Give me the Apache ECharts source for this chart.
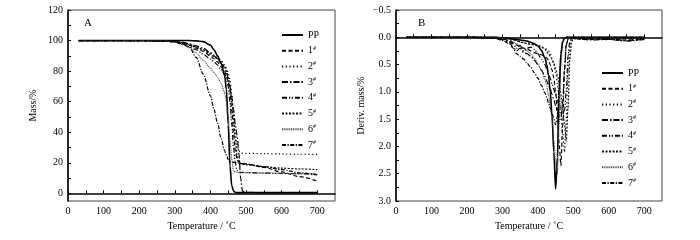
<!DOCTYPE html>
<html>
<head>
<meta charset="utf-8">
<script src="https://cdn.jsdelivr.net/npm/echarts@6/dist/echarts.min.js"></script>
<style>
  html, body { margin: 0; padding: 0; background: #fff; }
  #chart { width: 700px; height: 240px; }
</style>
</head>
<body>
<div id="chart"></div>
<script>
// series names
const names = ["PP", "1#", "2#", "3#", "4#", "5#", "6#", "7#"];

// panel A: TGA, mass / %
const tgaTemp = [30, 100, 200, 280, 300, 320, 340, 360, 380, 400, 410, 420, 430, 440, 445, 450, 455, 460, 465, 470, 475, 480, 485, 490, 500, 550, 600, 650, 700];
const tgaPP = [100, 100, 100, 100, 100, 100, 100, 99.8, 99.3, 97, 94, 90, 85, 77, 68, 45, 18, 5, 1.5, 0.6, 0.5, 0.5, 0.5, 0.5, 0.5, 0.5, 0.5, 0.5, 0.5];
const tga1 = [100, 100, 100, 99.7, 99.3, 98.5, 97, 95, 93, 90, 88, 86, 83, 80, 77, 73, 67, 55, 40, 28, 22, 20.5, 20, 19.7, 19.3, 17, 14, 11, 8];
const tga2 = [100, 100, 100, 99.7, 99.2, 98.3, 97, 95.5, 94, 92, 90.5, 89, 87, 84, 82, 79, 74, 65, 52, 40, 32, 28, 26.5, 26.3, 26.2, 26, 25.8, 25.6, 25.5];
const tga3 = [100, 100, 100, 99.8, 99.5, 99, 98, 96.5, 95, 92, 90, 88, 85, 82, 79, 75, 70, 63, 55, 45, 38, 26, 10, 1.5, 0.6, 0.5, 0.5, 0.5, 0.5];
const tga4 = [100, 100, 100, 99.7, 99.2, 98, 96, 94, 91, 88, 86, 84, 81, 78, 75, 70, 60, 45, 30, 20, 15, 14, 13.8, 13.7, 13.6, 13.3, 13, 12.8, 12.5];
const tga5 = [100, 100, 100, 99.8, 99.4, 98.6, 97.5, 96, 94, 91, 89.5, 88, 86, 83, 80, 76, 70, 60, 48, 35, 25, 20, 19.2, 19, 18.7, 17.5, 16.5, 16, 15.5];
const tga6 = [100, 100, 100, 99.6, 99, 97.5, 95.5, 92, 87, 82, 79, 76, 72, 66, 60, 50, 35, 22, 15, 14, 13.8, 13.7, 13.6, 13.6, 13.5, 13.3, 13.1, 12.9, 12.7];
const tga7 = [100, 100, 99.8, 99.4, 99, 98, 96, 89, 78, 64, 55, 46, 36, 28, 25, 22, 20.8, 20.5, 20.3, 20.1, 20, 19.8, 19.6, 19.4, 19.1, 17.5, 15.5, 13.5, 12];

// panel B: DTG, deriv. mass / %
const dtgTemp = [30, 100, 200, 280, 300, 320, 330, 340, 350, 360, 370, 380, 390, 400, 410, 420, 425, 430, 435, 440, 445, 450, 455, 460, 465, 470, 475, 480, 485, 490, 495, 500, 510, 550, 600, 650, 700];
const dtgPP = [0, 0, 0, 0, 0.01, 0.02, 0.03, 0.04, 0.05, 0.06, 0.07, 0.09, 0.12, 0.16, 0.24, 0.38, 0.5, 0.7, 1.0, 1.45, 2.1, 2.78, 2.2, 1.0, 0.3, 0.08, 0.02, 0, 0, 0, 0, 0, 0, 0, 0, 0, 0];
const dtg1 = [0, 0, 0, 0.01, 0.03, 0.06, 0.1, 0.14, 0.18, 0.2, 0.22, 0.25, 0.28, 0.3, 0.32, 0.35, 0.38, 0.42, 0.5, 0.6, 0.75, 1.0, 1.4, 1.95, 2.35, 1.6, 0.6, 0.15, 0.04, 0.02, 0.02, 0.02, 0.03, 0.04, 0.03, 0.05, 0.04];
const dtg2 = [0, 0, 0, 0, 0.01, 0.03, 0.05, 0.07, 0.09, 0.1, 0.11, 0.12, 0.13, 0.15, 0.17, 0.2, 0.22, 0.25, 0.3, 0.38, 0.5, 0.65, 0.85, 1.1, 1.4, 1.75, 2.1, 1.5, 0.6, 0.15, 0.03, 0.01, 0.02, 0.03, 0.04, 0.03, 0.02];
const dtg3 = [0, 0, 0, 0.01, 0.04, 0.1, 0.18, 0.25, 0.2, 0.28, 0.3, 0.35, 0.42, 0.5, 0.6, 0.72, 0.8, 0.88, 0.95, 1.05, 1.15, 1.25, 1.35, 1.45, 1.5, 1.2, 0.6, 0.15, 0.03, 0.02, 0.02, 0.02, 0.03, 0.05, 0.04, 0.06, 0.03];
const dtg4 = [0, 0, 0, 0.01, 0.03, 0.08, 0.12, 0.2, 0.15, 0.25, 0.2, 0.18, 0.22, 0.3, 0.4, 0.5, 0.58, 0.66, 0.75, 0.85, 0.95, 1.05, 1.15, 1.25, 1.3, 1.32, 1.35, 1.0, 0.35, 0.08, 0.02, 0.01, 0.02, 0.03, 0.04, 0.07, 0.04];
const dtg5 = [0, 0, 0, 0, 0.01, 0.02, 0.04, 0.06, 0.08, 0.1, 0.12, 0.13, 0.14, 0.15, 0.18, 0.22, 0.26, 0.3, 0.35, 0.4, 0.48, 0.58, 0.7, 0.85, 1.05, 1.3, 1.6, 1.9, 1.3, 0.4, 0.08, 0.02, 0.02, 0.02, 0.03, 0.02, 0.02];
const dtg6 = [0, 0, 0, 0, 0.02, 0.04, 0.08, 0.12, 0.16, 0.2, 0.25, 0.3, 0.38, 0.48, 0.6, 0.78, 0.9, 1.05, 1.25, 1.5, 1.9, 2.3, 2.5, 1.6, 0.5, 0.1, 0.02, 0, 0, 0, 0, 0, 0, 0, 0, 0, 0];
const dtg7 = [0, 0, 0, 0.02, 0.06, 0.12, 0.2, 0.3, 0.35, 0.4, 0.48, 0.55, 0.65, 0.75, 0.88, 1.02, 1.1, 1.2, 1.3, 1.4, 1.5, 1.6, 1.45, 0.9, 0.3, 0.08, 0.02, 0, 0, 0, 0, 0, 0, 0, 0, 0, 0];

// tick labels
const tempTicks = [0, 100, 200, 300, 400, 500, 600, 700];
const massTicks = [0, 20, 40, 60, 80, 100, 120];
const derivTicks = [-0.5, 0, 0.5, 1.0, 1.5, 2.0, 2.5, 3.0];

const tgaSets = [tgaPP, tga1, tga2, tga3, tga4, tga5, tga6, tga7];
const dtgSets = [dtgPP, dtg1, dtg2, dtg3, dtg4, dtg5, dtg6, dtg7];

const dashes = ["solid", [4, 2.5], [1.2, 2.5], [6, 2, 1.5, 2], [5, 2, 1.2, 1.5, 1.2, 2], [2, 1.5], [1, 0.8], [4, 1.5, 1.2, 1.5]];
const widths = [1.6, 1.2, 1.2, 1.2, 1.2, 1.2, 1.1, 1.2];
const colors = ["#000", "#000", "#000", "#000", "#000", "#111", "#444", "#000"];

const FONT = "Liberation Serif";
const txt = { fontFamily: FONT, fontSize: 10, color: "#000" };

const chart = echarts.init(document.getElementById("chart"), null, { renderer: "canvas" });

function makeX(gridIndex) {
  return {
    type: "value", gridIndex, min: 0, max: 750,
    name: "Temperature / ˚C", nameLocation: "middle", nameGap: 18,
    nameTextStyle: txt,
    axisLine: { lineStyle: { color: "#000", width: 1.5 } },
    axisTick: { inside: true, length: 3, lineStyle: { color: "#000" },
      customValues: [0, 50, 100, 150, 200, 250, 300, 350, 400, 450, 500, 550, 600, 650, 700] },
    axisLabel: { ...txt, margin: 5, customValues: tempTicks },
    splitLine: { show: false },
  };
}

function legendFor(left, top) {
  return {
    orient: "vertical", left, top, itemWidth: 21, itemHeight: 10, itemGap: 5.2,
    data: names,
    itemStyle: { color: "transparent", borderColor: "transparent", borderWidth: 0 },
    textStyle: { ...txt, rich: { n: { ...txt }, s: { fontFamily: FONT, fontSize: 6, fontStyle: "italic", verticalAlign: "top", padding: [0, 0, 5, 0] } } },
    formatter: (n) => n === "PP" ? "{n|PP}" : "{n|" + n[0] + "}{s|#}",
  };
}

const series = [];
names.forEach((n, i) => {
  const ls = { color: colors[i], width: widths[i], type: dashes[i] };
  series.push({
    name: n, type: "line", xAxisIndex: 0, yAxisIndex: 0, symbol: "none",
    smooth: 0.3, smoothMonotone: "x", animation: false,
    itemStyle: { color: colors[i] }, lineStyle: ls,
    data: tgaTemp.map((t, k) => [t, tgaSets[i][k]]),
  });
  series.push({
    name: n, type: "line", xAxisIndex: 1, yAxisIndex: 1, symbol: "none",
    smooth: 0.3, smoothMonotone: "x", animation: false,
    itemStyle: { color: colors[i] }, lineStyle: ls,
    data: dtgTemp.map((t, k) => [t, dtgSets[i][k]]),
  });
});

chart.setOption({
  animation: false,
  backgroundColor: "#fff",
  grid: [
    { left: 68, top: 10, width: 267, height: 191, show: true, borderColor: "#444", borderWidth: 1, backgroundColor: "transparent" },
    { left: 396, top: 10, width: 266, height: 191, show: true, borderColor: "#444", borderWidth: 1, backgroundColor: "transparent" },
  ],
  legend: [legendFor(276, 25), legendFor(596, 63)],
  xAxis: [makeX(0), makeX(1)],
  yAxis: [
    {
      type: "value", gridIndex: 0, min: -5, max: 120,
      name: "Mass/%", nameLocation: "middle", nameGap: 30, nameTextStyle: txt,
      axisLine: { lineStyle: { color: "#000", width: 1.5 } },
      axisTick: { inside: true, length: 3, lineStyle: { color: "#000" },
        customValues: [0, 10, 20, 30, 40, 50, 60, 70, 80, 90, 100, 110, 120] },
      axisLabel: { ...txt, margin: 5, customValues: massTicks },
      splitLine: { show: false },
    },
    {
      type: "value", gridIndex: 1, min: -0.5, max: 3.0, inverse: true,
      name: "Deriv. mass/%", nameLocation: "middle", nameGap: 30, nameTextStyle: txt,
      axisLine: { lineStyle: { color: "#000", width: 1.5 } },
      axisTick: { inside: true, length: 3, lineStyle: { color: "#000" },
        customValues: [-0.5, -0.25, 0, 0.25, 0.5, 0.75, 1, 1.25, 1.5, 1.75, 2, 2.25, 2.5, 2.75, 3] },
      axisLabel: { ...txt, margin: 5, customValues: derivTicks,
        formatter: (v) => (v < 0 ? "\u2212" : "") + Math.abs(v).toFixed(1) },
      splitLine: { show: false },
    },
  ],
  graphic: [
    { type: "text", left: 84, top: 18, style: { text: "A", font: "11px " + FONT, fill: "#000" } },
    { type: "text", left: 418, top: 18, style: { text: "B", font: "11px " + FONT, fill: "#000" } },
  ],
  series,
});
</script>
</body>
</html>
